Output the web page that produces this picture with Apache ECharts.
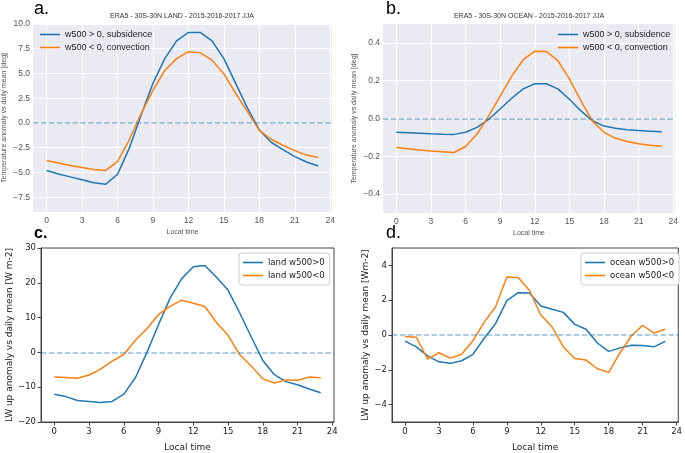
<!DOCTYPE html>
<html><head><meta charset="utf-8">
<script src="https://cdn.jsdelivr.net/npm/echarts@6/dist/echarts.min.js"></script>
<style>html,body{margin:0;padding:0;background:#fff}#c{width:685px;height:453px}</style>
</head><body><div id="c"></div><script>
const hours = [0,1,2,3,4,5,6,7,8,9,10,11,12,13,14,15,16,17,18,19,20,21,22,23];
const xTicks = [0,3,6,9,12,15,18,21,24];

// a. ERA5 land temperature anomaly
const landSubs = [-4.8,-5.15,-5.45,-5.75,-6.05,-6.2,-5.2,-2.55,0.8,4.0,6.5,8.3,9.15,9.15,8.3,6.5,4.0,1.5,-0.7,-1.95,-2.7,-3.4,-3.95,-4.35];
const landConv = [-3.8,-4.05,-4.3,-4.5,-4.7,-4.8,-3.9,-1.7,0.95,3.3,5.3,6.5,7.2,7.1,6.35,4.95,3.0,1.15,-0.75,-1.65,-2.25,-2.8,-3.25,-3.5];
const aTicks = [-7.5,-5,-2.5,0,2.5,5,7.5,10];

// b. ERA5 ocean temperature anomaly
const oceanSubs = [-0.073,-0.075,-0.078,-0.081,-0.083,-0.084,-0.073,-0.047,-0.005,0.05,0.107,0.157,0.184,0.184,0.157,0.102,0.04,-0.012,-0.04,-0.052,-0.06,-0.064,-0.067,-0.07];
const oceanConv = [-0.154,-0.16,-0.167,-0.172,-0.176,-0.18,-0.148,-0.082,0.012,0.119,0.224,0.311,0.356,0.355,0.306,0.21,0.093,-0.014,-0.073,-0.105,-0.122,-0.133,-0.141,-0.147];
const bTicks = [-0.4,-0.2,0,0.2,0.4];

// c. LW up anomaly land
const lwLandPos = [-12.0,-12.7,-13.8,-14.1,-14.4,-14.1,-12.0,-7.3,0.0,8.0,15.6,21.2,24.6,25.0,21.6,17.9,11.4,4.5,-2.3,-6.4,-8.4,-9.3,-10.5,-11.6];
const lwLandNeg = [-7.1,-7.2,-7.4,-6.5,-4.8,-2.5,-0.6,3.5,6.8,10.9,13.2,15.0,14.1,13.2,8.6,4.9,-0.6,-3.9,-7.6,-8.8,-7.9,-8.0,-7.1,-7.3];
const cTicks = [-20,-10,0,10,20,30];

// d. LW up anomaly ocean
const lwOceanPos = [-0.35,-0.68,-1.2,-1.54,-1.63,-1.48,-1.11,-0.19,0.65,1.98,2.43,2.41,1.67,1.48,1.3,0.61,0.33,-0.46,-0.94,-0.74,-0.59,-0.61,-0.68,-0.37];
const lwOceanNeg = [-0.09,-0.13,-1.39,-1.02,-1.33,-1.11,-0.33,0.74,1.61,3.33,3.31,2.56,1.15,0.46,-0.69,-1.35,-1.44,-1.94,-2.15,-1.02,-0.06,0.56,0.11,0.33];
const dTicks = [-4,-2,0,2,4];

const BLUE = '#1f77b4', ORANGE = '#ff7f0e';
const pair = arr => hours.map((h, i) => [h, arr[i]]);
const fmt = d => v => (v < 0 ? '\u2212' : '') + Math.abs(v).toFixed(d);
const SANS = 'Liberation Sans';
const DJ = 'DejaVu Sans';

const zeroLine = {
  silent: true, symbol: ['none', 'none'], label: {show: false},
  lineStyle: {type: [5.5, 2.4], color: 'rgba(31,119,180,0.5)', width: 1.5},
  data: [{yAxis: 0}]
};

function darkX(gi) {
  return {
    type: 'value', gridIndex: gi, min: -1.15, max: 24.15,
    name: 'Local time', nameLocation: 'middle', nameGap: 17,
    nameTextStyle: {fontFamily: SANS, fontSize: 7, color: '#555'},
    axisLine: {show: false}, axisTick: {show: false, customValues: xTicks},
    axisLabel: {customValues: xTicks, fontFamily: SANS, fontSize: 8.5, color: '#555', margin: 4},
    splitLine: {show: true, lineStyle: {color: '#fff', width: 1}}
  };
}
function darkY(gi, min, max, ticks, d) {
  return {
    type: 'value', gridIndex: gi, min: min, max: max,
    name: 'Temperature anomaly vs daily mean [deg]', nameLocation: 'middle', nameGap: 25,
    nameTextStyle: {fontFamily: SANS, fontSize: 7, color: '#555'},
    axisLine: {show: false}, axisTick: {show: false, customValues: ticks},
    axisLabel: {customValues: ticks, formatter: fmt(d), fontFamily: SANS, fontSize: 8.5, color: '#555', margin: 3},
    splitLine: {show: true, lineStyle: {color: '#fff', width: 1}}
  };
}
function classicX(gi) {
  return {
    type: 'value', gridIndex: gi, min: -1.15, max: 24.15,
    name: 'Local time', nameLocation: 'middle', nameGap: 21,
    nameTextStyle: {fontFamily: DJ, fontSize: 9, color: '#222'},
    axisLine: {show: true, onZero: false, lineStyle: {color: '#444', width: 1}},
    axisTick: {show: true, customValues: xTicks, length: 3.5, lineStyle: {color: '#444'}},
    axisLabel: {customValues: xTicks, fontFamily: DJ, fontSize: 8.5, color: '#222', margin: 5},
    splitLine: {show: false}
  };
}
function classicY(gi, min, max, ticks, name, gap) {
  return {
    type: 'value', gridIndex: gi, min: min, max: max,
    name: name, nameLocation: 'middle', nameGap: gap,
    nameTextStyle: {fontFamily: DJ, fontSize: 9, color: '#222'},
    axisLine: {show: true, onZero: false, lineStyle: {color: '#444', width: 1}},
    axisTick: {show: true, customValues: ticks, length: 3.5, lineStyle: {color: '#444'}},
    axisLabel: {customValues: ticks, formatter: fmt(0), fontFamily: DJ, fontSize: 8.5, color: '#222', margin: 5},
    splitLine: {show: false}
  };
}
function line(name, data, color, gi, withZero) {
  const s = {
    name: name, type: 'line', xAxisIndex: gi, yAxisIndex: gi, data: pair(data),
    symbol: 'none', showSymbol: false, animation: false,
    lineStyle: {color: color, width: 1.5}, itemStyle: {color: color}, z: 3
  };
  if (withZero) s.markLine = zeroLine;
  return s;
}
function legend(names, pos, boxed) {
  const l = Object.assign({
    orient: 'vertical', data: names, icon: 'rect', itemWidth: 20, itemHeight: 1.6, itemGap: 4,
    textStyle: {fontFamily: boxed ? DJ : SANS, fontSize: boxed ? 8.5 : 9, color: '#222', lineHeight: 9},
    selectedMode: false
  }, pos);
  if (boxed) {
    l.backgroundColor = '#fff'; l.borderColor = '#ccc'; l.borderWidth = 1; l.borderRadius = 3;
    l.padding = [5, 5, 5, 4];
  } else {
    l.padding = 0;
  }
  return l;
}

const chart = echarts.init(document.getElementById('c'), null, {renderer: 'canvas'});
chart.setOption({
  animation: false,
  backgroundColor: '#fff',
  grid: [
    {left: 32, top: 24, width: 300, height: 188, show: true, backgroundColor: '#EAEAF2', borderWidth: 0},
    {left: 383, top: 24, width: 292, height: 189, show: true, backgroundColor: '#EAEAF2', borderWidth: 0},
    {left: 41, top: 248, width: 293, height: 180, show: true, backgroundColor: '#fff', borderColor: '#444', borderWidth: 1},
    {left: 392, top: 248, width: 290, height: 181, show: true, backgroundColor: '#fff', borderColor: '#444', borderWidth: 1}
  ],
  xAxis: [darkX(0), darkX(1), classicX(2), classicX(3)],
  yAxis: [
    darkY(0, -9, 10, aTicks, 1),
    darkY(1, -0.5, 0.5, bTicks, 1),
    classicY(2, -20, 30, cTicks, 'LW up anomaly vs daily mean [W m-2]', 22),
    classicY(3, -5, 5, dTicks, 'LW up anomaly vs daily mean [Wm-2]', 22)
  ],
  legend: [
    legend(['w500 > 0, subsidence', 'w500 < 0, convection'], {left: 40, top: 30}, false),
    legend(['w500 > 0, subsidence', 'w500 < 0, convection'], {left: 558, top: 30}, false),
    legend(['land w500>0', 'land w500<0'], {left: 239, top: 253}, true),
    legend(['ocean w500>0', 'ocean w500<0'], {left: 581, top: 253}, true)
  ],
  graphic: [
    {type: 'text', left: 34, top: 0, style: {text: 'a.', font: '18px "Liberation Sans"', fill: '#000'}},
    {type: 'text', left: 386, top: 0, style: {text: 'b.', font: '18px "Liberation Sans"', fill: '#000'}},
    {type: 'text', left: 34, top: 226, style: {text: 'c.', font: 'bold 16px "Liberation Sans"', fill: '#000'}},
    {type: 'text', left: 386, top: 224, style: {text: 'd.', font: '18px "Liberation Sans"', fill: '#000'}},
    {type: 'text', x: 182, y: 16, style: {text: 'ERA5 - 30S-30N LAND - 2015-2016-2017 JJA', font: '7px "Liberation Sans"', fill: '#333', align: 'center', verticalAlign: 'middle'}},
    {type: 'text', x: 529, y: 16, style: {text: 'ERA5 - 30S-30N OCEAN - 2015-2016-2017 JJA', font: '7px "Liberation Sans"', fill: '#333', align: 'center', verticalAlign: 'middle'}}
  ],
  series: [
    line('w500 > 0, subsidence', landSubs, BLUE, 0, true),
    line('w500 < 0, convection', landConv, ORANGE, 0, false),
    line('w500 > 0, subsidence', oceanSubs, BLUE, 1, true),
    line('w500 < 0, convection', oceanConv, ORANGE, 1, false),
    line('land w500>0', lwLandPos, BLUE, 2, true),
    line('land w500<0', lwLandNeg, ORANGE, 2, false),
    line('ocean w500>0', lwOceanPos, BLUE, 3, true),
    line('ocean w500<0', lwOceanNeg, ORANGE, 3, false)
  ]
});
</script></body></html>
